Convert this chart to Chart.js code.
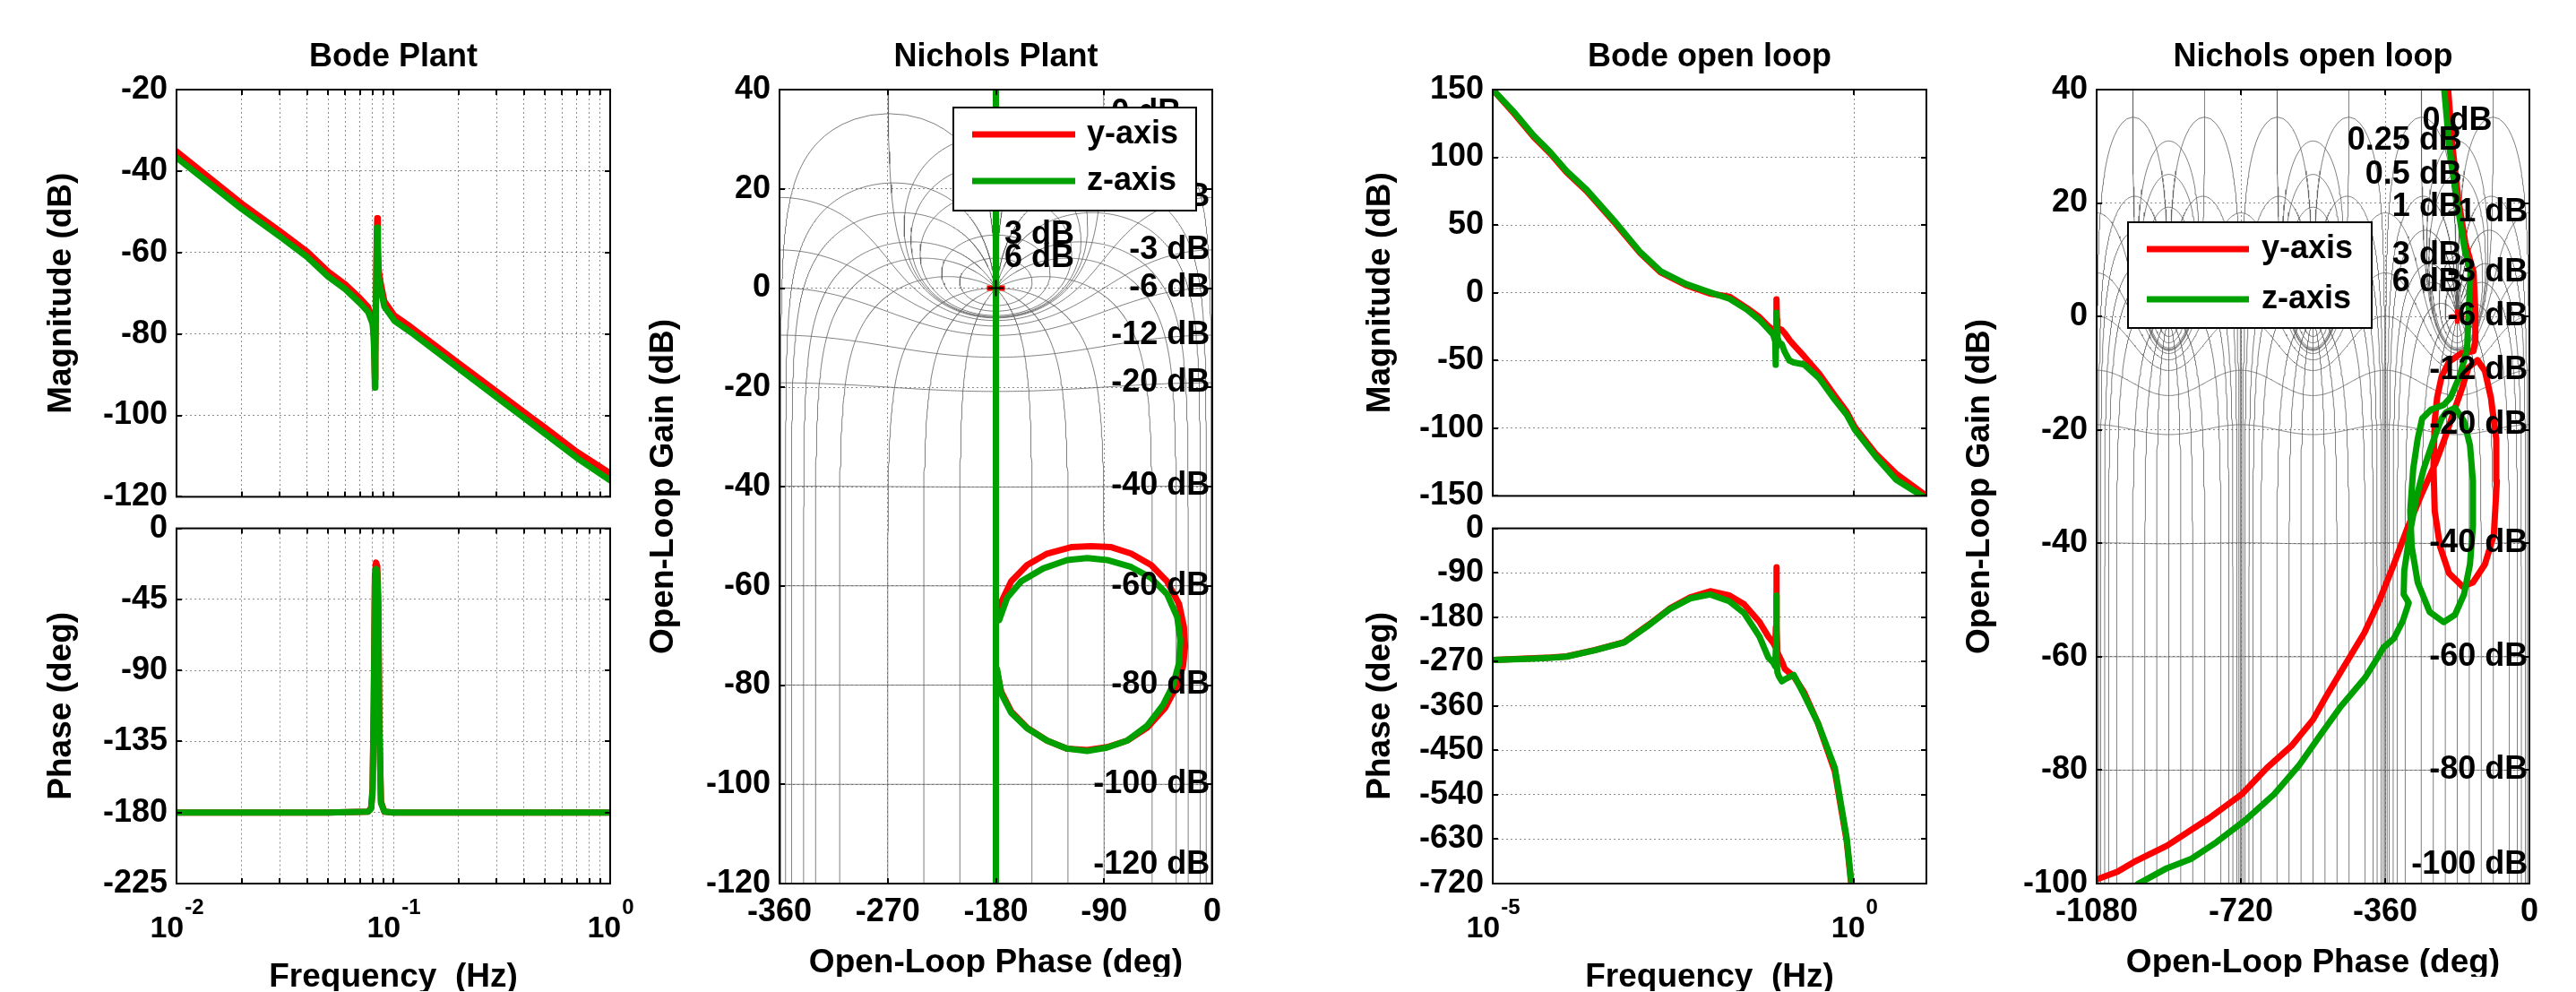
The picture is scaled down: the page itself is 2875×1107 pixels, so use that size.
<!DOCTYPE html>
<html>
<head>
<meta charset="utf-8">
<script src="https://cdn.jsdelivr.net/npm/chart.js@4.4.1/dist/chart.umd.min.js"></script>
<style>
html, body { margin: 0; padding: 0; background: #fff; overflow: hidden; width: 2875px; height: 1107px; }
canvas { position: absolute; }
</style>
</head>
<body>
<script>
const FONT = "'Liberation Sans', Arial, sans-serif";

const seriesNames = ['y-axis', 'z-axis'];
const seriesColors = ['#ff0000', '#00a000'];

// Bode plant
const bpFreqTicks = [0.01, 0.02, 0.03, 0.04, 0.05, 0.06, 0.07, 0.08, 0.09, 0.1, 0.2, 0.3, 0.4, 0.5, 0.6, 0.7, 0.8, 0.9, 1];
const bpMagTicks = [-120, -100, -80, -60, -40, -20];
const bpPhaseTicks = [-225, -180, -135, -90, -45, 0];
const bpPow = [-2, -1, 0];
const bpMagFreq = [0.01, 0.02, 0.03, 0.04, 0.05, 0.06, 0.07, 0.0765, 0.0802, 0.0812, 0.0818, 0.0822, 0.0826, 0.0832, 0.0838, 0.0843, 0.0848, 0.0855, 0.087, 0.0909, 0.1012, 0.1205, 0.2, 0.3, 0.4, 0.5, 0.7, 1.0];
const bpMagY = [-35.2, -48.0, -54.8, -59.8, -64.7, -67.8, -71.2, -73.4, -76.5, -80, -86, -91, -85, -70, -57, -51.6, -58, -64, -67, -72, -75.5, -78.3, -87.2, -94.2, -99.2, -103.0, -108.9, -114.2];
const bpMagZ = [-36.7, -49.3, -56.1, -61.1, -65.9, -69.0, -72.4, -74.6, -77.5, -81, -87, -93.2, -86, -71, -59, -53.9, -60, -66, -68.5, -73.3, -76.8, -79.6, -88.5, -95.6, -100.6, -104.5, -110.4, -116.0];
const bpPhaseFreq = [0.01, 0.05, 0.0765, 0.079, 0.0802, 0.0812, 0.0822, 0.0832, 0.0843, 0.0852, 0.0862, 0.0877, 0.0909, 0.1, 1.0];
const bpPhaseY = [-180, -180, -179.5, -177, -165, -110, -30, -21.6, -24, -45, -125, -173, -179.5, -180, -180];
const bpPhaseZ = [-180, -180, -179.5, -177.5, -167, -115, -35, -25.6, -28, -50, -130, -174, -179.5, -180, -180];

// Nichols plant
const npPhaseTicks = [-360, -270, -180, -90, 0];
const npGainTicks = [-120, -100, -80, -60, -40, -20, 0, 20, 40];
const npYPhase = [-180, -180, -180, -179, -167.3, -154, -137.4, -117.4, -100.8, -84.1, -67.5, -50.9, -37.6, -27.6, -23.6, -22.6, -24.3, -29.2, -39.2, -54.2, -70.8, -87.5, -104.1, -120.8, -137.4, -154, -167.3, -175.6, -179, -180, -180];
const npYGain = [60, -78, -64, -65, -59.1, -55.8, -53.5, -52.2, -52.0, -52.2, -53.5, -55.8, -59.1, -63.7, -68.3, -72.2, -76.1, -80.0, -84.6, -88.6, -91.2, -92.5, -93.1, -92.8, -91.2, -88.6, -85.3, -81.3, -77.4, -78, -130];
const npZPhase = [-180, -180, -180, -177.3, -170.6, -159, -140.7, -120.7, -104.1, -87.5, -67.5, -50.9, -37.6, -29.2, -26.6, -27.6, -32.6, -40.9, -54.2, -70.8, -87.5, -104.1, -120.8, -137.4, -154, -167.3, -175.6, -179, -180, -180];
const npZGain = [60, -77, -66, -66.9, -62.4, -59.1, -56.5, -54.8, -54.4, -54.8, -56.2, -58.4, -61.7, -66.3, -70.9, -75.5, -80, -84, -88.2, -91.2, -92.6, -93.3, -92.8, -91.2, -88.7, -85.6, -81.7, -76.8, -77, -130];
const criticalPoint = {x: -180, y: 0};

// Bode open loop
const olFreqTicks = [1e-5, 1];
const olMagTicks = [-150, -100, -50, 0, 50, 100, 150];
const olPhaseTicks = [-720, -630, -540, -450, -360, -270, -180, -90, 0];
const olPow = [-5, 0];
const olMagFreq = [1e-5, 2e-5, 3.7e-5, 4.8e-5, 6.2e-5, 1.05e-4, 2.0e-4, 5.1e-4, 1.1e-3, 2.1e-3, 4.7e-3, 1.0e-2, 1.9e-2, 3.3e-2, 4.9e-2, 6.5e-2, 7.6e-2, 8.1e-2, 8.22e-2, 8.3e-2, 8.43e-2, 8.55e-2, 8.7e-2, 9.1e-2, 0.1, 0.11, 0.127, 0.146, 0.204, 0.33, 0.54, 0.79, 1.02, 2.0, 3.8, 10];
const olMagY = [150, 132, 115, 109, 103, 89, 75, 50.5, 29.3, 15.1, 5.6, -0.5, -3, -11.4, -18, -24.6, -27.5, -29.5, -33, -28, -4.8, -20, -25.5, -26.5, -27.5, -30, -34.7, -38.5, -47, -59.9, -76, -88, -99, -119, -133.5, -150];
const olMagZ = [150, 133, 116, 110, 104, 90, 76, 51.5, 30, 16, 6.5, 0.5, -4.5, -12.5, -20, -26.9, -31, -36, -53.2, -40, -14.7, -30, -33, -36.5, -38, -43.8, -50, -51.5, -53, -63.2, -79, -90, -101, -121, -138, -152];
const olPhaseFreq = [1e-5, 3.7e-5, 6.3e-5, 1.05e-4, 2.6e-4, 6.6e-4, 1.45e-3, 2.8e-3, 5.4e-3, 1.02e-2, 1.88e-2, 3.0e-2, 4.9e-2, 6.5e-2, 7.6e-2, 8.1e-2, 8.28e-2, 8.4e-2, 8.5e-2, 8.67e-2, 9.1e-2, 0.1, 0.11, 0.146, 0.204, 0.316, 0.54, 0.79, 0.91, 1.0];
const olPhaseY = [-267, -263, -262, -259.5, -246.6, -230.5, -195, -162.7, -140, -127.4, -136, -153.8, -189.6, -219.3, -232, -240, -200, -79, -200, -250, -258, -270, -285, -300, -333, -395, -492, -634, -720, -790];
const olPhaseZ = [-267, -264, -262.5, -260, -247, -231, -196, -164, -142, -134, -147.8, -171.7, -219.3, -262, -272, -280, -240, -136, -260, -292, -300, -310, -306, -297, -338, -395, -485, -628, -715, -785];

// Nichols open loop
const nolPhaseTicks = [-1080, -720, -360, 0];
const nolGainTicks = [-100, -80, -60, -40, -20, 0, 20, 40];
const nolYPhase = [-205, -192, -178, -160, -139.4, -135, -135, -139.4, -170.7, -200.5, -219.1, -230.3, -236.3, -239.3, -236.3, -222.9, -200.5, -167, -140.9, -111, -88.7, -81.2, -82.7, -96.1, -111, -129.7, -152, -170.7, -189.3, -211.7, -234, -267.6, -304.8, -338.4, -375, -412, -465, -508, -540, -592, -655, -717, -800, -904, -987, -1028, -1085];
const nolYGain = [42, 30, 21, 13, 7.8, 0.9, -4.3, -6.1, -6.5, -8.0, -10.6, -14.3, -18.5, -26.4, -34.3, -40.6, -45.3, -47.6, -46.9, -43.7, -38.5, -29, -21.6, -14.3, -9.6, -7.7, -9.0, -13.2, -16.9, -21.6, -25.8, -31.1, -37.4, -43.7, -50.2, -55.8, -62, -67.1, -71.1, -75.6, -79.6, -84.2, -88.5, -93.3, -96.2, -97.9, -99.4];
const nolZPhase = [-215, -200, -180, -162, -147, -152, -155.8, -174.4, -196.8, -213.9, -245.2, -267.6, -278.8, -290, -297.4, -293.7, -278.8, -249, -213.9, -185.6, -163.2, -148.3, -140.9, -140.9, -148.3, -163.2, -185.6, -207.9, -219.1, -241.5, -263.9, -282.5, -298.9, -312.3, -313.8, -301.1, -316, -338.4, -364.5, -380, -410, -470.9, -522.6, -574.3, -636.3, -708.7, -781, -843, -905, -977.6, -1000];
const nolZGain = [42, 30, 20, 12, 7.8, -0.1, -5.9, -10.6, -14.3, -15.6, -16.4, -18, -21.6, -26.9, -34.3, -40.6, -46.9, -52.1, -53.9, -52.6, -49, -43.7, -36.9, -29, -22.7, -18.5, -16.1, -16.9, -18, -22.2, -26.9, -32.1, -38.5, -44.8, -49, -50.5, -53.7, -56.8, -58.4, -60.3, -63.7, -68.8, -73.9, -79.1, -84.2, -88.8, -92.7, -95.6, -97.3, -100.1, -101.5];

// Nichols chart grid (closed-loop gain and phase contours)
const ngridGainsDb = [6, 3, 1, 0.5, 0.25, 0, -1, -3, -6, -12, -20, -40, -60, -80, -100, -120];
const ngridPhasesDeg = [-1, -5, -10, -20, -30, -50, -90, -120, -150, -180, -210, -240, -270, -310, -330, -340, -350, -355, -359];

Chart.defaults.font.family = FONT;
Chart.defaults.color = '#000';

const gridColor = 'rgba(0,0,0,0.45)';
const ngridColor = 'rgba(95,95,95,0.8)';
const D = Math.PI / 180;

function pts(xs, ys) {
    return xs.map((x, i) => ({x: x, y: ys[i]}));
}

function curve(data, color, order) {
    return {
        data: data, borderColor: color, backgroundColor: color, borderWidth: 7,
        showLine: true, pointRadius: 0, order: order,
        borderJoinStyle: 'round', borderCapStyle: 'round'
    };
}

function cross(p, color, r, w, order) {
    return {
        data: [p], showLine: false, pointStyle: 'cross', pointRadius: r,
        pointBorderWidth: w, pointBorderColor: color, borderColor: color, order: order
    };
}

function ngridPoints(ymin, shifts) {
    const out = [];
    const logs = [];
    for (let e = -7; e < -0.4; e += 0.05) logs.push(e);
    for (let e = -0.4; e < 0.4; e += 0.002) logs.push(e);
    for (let e = 0.4; e <= 6; e += 0.05) logs.push(e);
    shifts.forEach(s => {
        ngridGainsDb.filter(M => M >= ymin).forEach(M => {
            const m = Math.pow(10, M / 20), m2 = m * m;
            if (M < 0) {
                for (let p = -360; p <= 0; p += 2) {
                    const c = Math.cos(p * D);
                    const g = (m2 * c + Math.sqrt(m2 * m2 * c * c + m2 * (1 - m2))) / (1 - m2);
                    out.push({x: p + s, y: 20 * Math.log10(g)});
                }
            } else if (M === 0) {
                for (let k = -60; k <= 60; k++) {
                    const a = 89.9 * Math.sin(k / 60 * Math.PI / 2);
                    const c = Math.cos((-180 + a) * D);
                    out.push({x: -180 + a + s, y: 20 * Math.log10(-1 / (2 * c))});
                }
            } else {
                const al = Math.acos(Math.sqrt(1 - 1 / m2)) / D;
                for (let k = 0; k <= 120; k++) {
                    const p = -180 + al * Math.cos(k / 120 * 2 * Math.PI);
                    const c = Math.cos(p * D);
                    const dd = Math.sqrt(Math.max(0, m2 * m2 * c * c - m2 * (m2 - 1)));
                    const g = (m2 * c + (k <= 60 ? -dd : dd)) / (1 - m2);
                    out.push({x: p + s, y: 20 * Math.log10(g)});
                }
            }
            out.push({x: NaN, y: NaN});
        });
        ngridPhasesDeg.forEach(psi => {
            const sn = Math.sin(psi * D), cs = Math.cos(psi * D);
            logs.forEach(e => {
                const r = Math.pow(10, e);
                const re = 1 - r * cs, im = -r * sn;
                const ph = psi - Math.atan2(im, re) / D;
                out.push({x: ph + s, y: 20 * Math.log10(r / Math.hypot(re, im))});
            });
            out.push({x: NaN, y: NaN});
        });
    });
    return out;
}

function ngridLabels(ymin, ymax, posPhase, posAlign, zero, negPhase) {
    const lo = ymin + 0.024 * (ymax - ymin);
    const labels = [];
    ngridGainsDb.filter(M => M >= ymin).forEach(M => {
        const m = Math.pow(10, M / 20);
        if (M > 0) {
            labels.push({text: M + ' dB', x: posPhase, y: 20 * Math.log10(m / (m - 1)), align: posAlign});
        } else if (M === 0) {
            labels.push({text: '0 dB', x: zero.x, y: zero.y, align: zero.align});
        } else {
            labels.push({text: M + ' dB', x: negPhase, y: Math.max(lo, 20 * Math.log10(m / (1 - m))), align: 'right'});
        }
    });
    return labels;
}

function makeDecor(o) {
    return {
        id: 'decor',
        afterDatasetsDraw(chart) {
            const ctx = chart.ctx, a = chart.chartArea, xs = chart.scales.x, ys = chart.scales.y;
            ctx.save();
            ctx.fillStyle = '#000';
            ctx.font = 'bold 36px ' + FONT;
            ctx.textBaseline = 'middle';
            (o.labels || []).forEach(l => {
                ctx.textAlign = l.align;
                ctx.fillText(l.text, xs.getPixelForValue(l.x), ys.getPixelForValue(l.y));
            });
            if (o.legend) {
                const L = o.legend, x0 = a.left + L.x, y0 = a.top + L.y;
                ctx.fillStyle = '#fff';
                ctx.fillRect(x0, y0, L.w, L.h);
                ctx.strokeStyle = '#000';
                ctx.lineWidth = 2;
                ctx.strokeRect(x0, y0, L.w, L.h);
                seriesNames.forEach((name, i) => {
                    const yy = y0 + L.rows[i];
                    ctx.strokeStyle = seriesColors[i];
                    ctx.lineWidth = 7;
                    ctx.beginPath();
                    ctx.moveTo(x0 + L.line[0], yy);
                    ctx.lineTo(x0 + L.line[1], yy);
                    ctx.stroke();
                    ctx.fillStyle = '#000';
                    ctx.textAlign = 'left';
                    ctx.fillText(name, x0 + L.textX, yy);
                });
            }
            ctx.restore();
        },
        afterDraw(chart) {
            const ctx = chart.ctx, a = chart.chartArea, xs = chart.scales.x, ys = chart.scales.y;
            ctx.save();
            ctx.strokeStyle = '#000';
            ctx.lineWidth = 2;
            ctx.beginPath();
            (o.xMarks || []).forEach(v => {
                const px = Math.round(xs.getPixelForValue(v));
                ctx.moveTo(px, a.bottom); ctx.lineTo(px, a.bottom - 6);
                ctx.moveTo(px, a.top); ctx.lineTo(px, a.top + 6);
            });
            (o.yMarks || []).forEach(v => {
                const py = Math.round(ys.getPixelForValue(v));
                ctx.moveTo(a.left, py); ctx.lineTo(a.left + 6, py);
                ctx.moveTo(a.right, py); ctx.lineTo(a.right - 6, py);
            });
            ctx.stroke();
            ctx.strokeRect(a.left, a.top, a.right - a.left, a.bottom - a.top);
            ctx.fillStyle = '#000';
            ctx.textBaseline = 'middle';
            if (o.title) {
                ctx.font = 'bold 36px ' + FONT;
                ctx.textAlign = 'center';
                ctx.fillText(o.title, (a.left + a.right) / 2, a.top - 36);
            }
            (o.pow || []).forEach(e => {
                const px = xs.getPixelForValue(Math.pow(10, e));
                const ex = String(e);
                ctx.font = 'bold 34px ' + FONT;
                const w1 = ctx.measureText('10').width;
                ctx.font = 'bold 24px ' + FONT;
                const w2 = ctx.measureText(ex).width;
                const x0 = px - (w1 + w2) / 2;
                ctx.textAlign = 'left';
                ctx.font = 'bold 34px ' + FONT;
                ctx.fillText('10', x0, a.bottom + 51);
                ctx.font = 'bold 24px ' + FONT;
                ctx.fillText(ex, x0 + w1 + 1, a.bottom + 27);
            });
            ctx.restore();
        }
    };
}

function makeChart(box, m, cfg) {
    const cv = document.createElement('canvas');
    const W = m.l + box.w + m.r, H = m.t + box.h + m.b;
    cv.width = W;
    cv.height = H;
    cv.style.left = (box.x - m.l) + 'px';
    cv.style.top = (box.y - m.t) + 'px';
    cv.style.width = W + 'px';
    cv.style.height = H + 'px';
    document.body.appendChild(cv);

    const axis = (ax, isX) => ({
        type: ax.type || 'linear',
        min: ax.min, max: ax.max,
        position: isX ? 'bottom' : 'left',
        afterFit: s => { if (isX) s.height = m.b; else s.width = m.l; },
        afterBuildTicks: s => { s.ticks = ax.ticks.map(v => ({value: v})); },
        ticks: {
            display: !!ax.labels, callback: v => String(v), color: '#000',
            font: {size: 36, weight: 'bold'}, padding: 10, maxRotation: 0, autoSkip: false
        },
        grid: {color: gridColor, lineWidth: 1, drawTicks: false},
        border: {display: false, dash: [2, 3]},
        title: ax.title ? {
            display: true, text: ax.title, color: '#000', padding: 0,
            font: {size: 37, weight: 'bold', lineHeight: isX ? 0.8 : 1.2}
        } : {display: false}
    });

    return new Chart(cv, {
        type: 'scatter',
        data: {datasets: cfg.datasets},
        options: {
            responsive: false, animation: false, devicePixelRatio: 1, events: [],
            layout: {padding: {left: 0, top: m.t, right: m.r, bottom: 0}},
            scales: {x: axis(cfg.x, true), y: axis(cfg.y, false)},
            plugins: {legend: {display: false}, tooltip: {enabled: false}}
        },
        plugins: [makeDecor(cfg.decor)]
    });
}

// Bode Plant: magnitude
makeChart({x: 197, y: 100, w: 484, h: 456}, {l: 150, t: 100, r: 45, b: 30}, {
    datasets: [
        curve(pts(bpMagFreq, bpMagZ), seriesColors[1], 0),
        curve(pts(bpMagFreq, bpMagY), seriesColors[0], 1)
    ],
    x: {type: 'logarithmic', min: 0.01, max: 1, ticks: bpFreqTicks},
    y: {min: -120, max: -20, ticks: bpMagTicks, labels: true, title: 'Magnitude (dB)'},
    decor: {title: 'Bode Plant', xMarks: bpFreqTicks, yMarks: bpMagTicks}
});

// Bode Plant: phase
makeChart({x: 197, y: 583, w: 484, h: 403}, {l: 150, t: 25, r: 45, b: 120}, {
    datasets: [
        curve(pts(bpPhaseFreq, bpPhaseZ), seriesColors[1], 0),
        curve(pts(bpPhaseFreq, bpPhaseY), seriesColors[0], 1)
    ],
    x: {type: 'logarithmic', min: 0.01, max: 1, ticks: bpFreqTicks, title: 'Frequency  (Hz)'},
    y: {min: -225, max: 0, ticks: bpPhaseTicks, labels: true, title: 'Phase (deg)'},
    decor: {pow: bpPow, xMarks: bpFreqTicks, yMarks: bpPhaseTicks}
});

// Nichols Plant
makeChart({x: 870, y: 100, w: 483, h: 886}, {l: 151, t: 100, r: 30, b: 104}, {
    datasets: [
        cross(criticalPoint, '#000', 9, 2, -1),
        curve(pts(npZPhase, npZGain), seriesColors[1], 0),
        cross(criticalPoint, seriesColors[0], 10, 6, 0.5),
        curve(pts(npYPhase, npYGain), seriesColors[0], 1),
        {data: ngridPoints(-120, [0]), borderColor: ngridColor, borderWidth: 1, showLine: true, pointRadius: 0, order: 10}
    ],
    x: {min: -360, max: 0, ticks: npPhaseTicks, labels: true, title: 'Open-Loop Phase (deg)'},
    y: {min: -120, max: 40, ticks: npGainTicks, labels: true, title: 'Open-Loop Gain (dB)'},
    decor: {
        title: 'Nichols Plant', xMarks: npPhaseTicks, yMarks: npGainTicks,
        labels: ngridLabels(-120, 40, -173, 'left', {x: -55, y: 35.3, align: 'center'}, -2),
        legend: {x: 194, y: 20, w: 271, h: 115, rows: [30, 82], line: [21, 136], textX: 149}
    }
});

// Bode open loop: magnitude
makeChart({x: 1666, y: 100, w: 484, h: 455}, {l: 147, t: 100, r: 45, b: 30}, {
    datasets: [
        curve(pts(olMagFreq, olMagZ), seriesColors[1], 0),
        curve(pts(olMagFreq, olMagY), seriesColors[0], 1)
    ],
    x: {type: 'logarithmic', min: 1e-5, max: 10, ticks: olFreqTicks},
    y: {min: -150, max: 150, ticks: olMagTicks, labels: true, title: 'Magnitude (dB)'},
    decor: {title: 'Bode open loop', xMarks: olFreqTicks, yMarks: olMagTicks}
});

// Bode open loop: phase
makeChart({x: 1666, y: 583, w: 484, h: 403}, {l: 147, t: 25, r: 45, b: 120}, {
    datasets: [
        curve(pts(olPhaseFreq, olPhaseZ), seriesColors[1], 0),
        curve(pts(olPhaseFreq, olPhaseY), seriesColors[0], 1)
    ],
    x: {type: 'logarithmic', min: 1e-5, max: 10, ticks: olFreqTicks, title: 'Frequency  (Hz)'},
    y: {min: -720, max: 0, ticks: olPhaseTicks, labels: true, title: 'Phase (deg)'},
    decor: {pow: olPow, xMarks: olFreqTicks, yMarks: olPhaseTicks}
});

// Nichols open loop
makeChart({x: 2340, y: 100, w: 483, h: 886}, {l: 152, t: 100, r: 30, b: 104}, {
    datasets: [
        cross(criticalPoint, seriesColors[0], 8, 5, -1),
        curve(pts(nolZPhase, nolZGain), seriesColors[1], 0),
        curve(pts(nolYPhase, nolYGain), seriesColors[0], 1),
        {data: ngridPoints(-100, [0, -360, -720]), borderColor: ngridColor, borderWidth: 1, showLine: true, pointRadius: 0, order: 10}
    ],
    x: {min: -1080, max: 0, ticks: nolPhaseTicks, labels: true, title: 'Open-Loop Phase (deg)'},
    y: {min: -100, max: 40, ticks: nolGainTicks, labels: true, title: 'Open-Loop Gain (dB)'},
    decor: {
        title: 'Nichols open loop', xMarks: nolPhaseTicks, yMarks: nolGainTicks,
        labels: ngridLabels(-100, 40, -168, 'right', {x: -180, y: 34.5, align: 'center'}, -4),
        legend: {x: 35, y: 148, w: 272, h: 118, rows: [30, 86], line: [21, 135], textX: 149}
    }
});
</script>
</body>
</html>
